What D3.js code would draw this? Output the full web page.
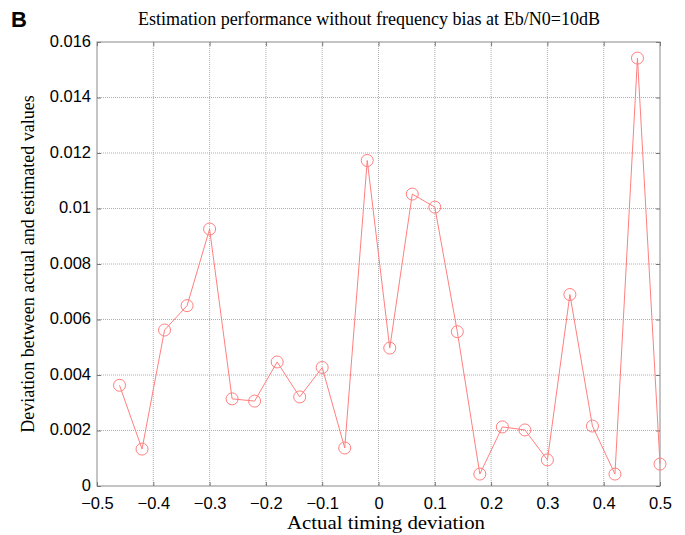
<!DOCTYPE html>
<html>
<head>
<meta charset="utf-8">
<script src="https://cdn.jsdelivr.net/npm/d3@7"></script>
<style>
  body { margin: 0; background: #fff; }
  svg { display: block; }
</style>
</head>
<body>
<svg id="chart" width="685" height="535"></svg>
<script>
// timing deviation on x, estimation error on y
const timingDev = [-0.46, -0.42, -0.38, -0.34, -0.30, -0.26, -0.22, -0.18, -0.14, -0.10, -0.06, -0.02,
  0.02, 0.06, 0.10, 0.14, 0.18, 0.22, 0.26, 0.30, 0.34, 0.38, 0.42, 0.46, 0.50];
const estError = [0.00363, 0.00133, 0.00562, 0.00650, 0.00926, 0.00314, 0.00306, 0.00447, 0.00321, 0.00427, 0.00137, 0.01173,
  0.00497, 0.01052, 0.01005, 0.00556, 0.00043, 0.00213, 0.00202, 0.00094, 0.00690, 0.00216, 0.00043, 0.01542, 0.00079];
const xTicks = [-0.5, -0.4, -0.3, -0.2, -0.1, 0, 0.1, 0.2, 0.3, 0.4, 0.5];
const yTicks = [0, 0.002, 0.004, 0.006, 0.008, 0.01, 0.012, 0.014, 0.016];

const svg = d3.select('#chart');
const margin = { top: 42, right: 25, bottom: 49, left: 97 };
const width = 685 - margin.left - margin.right;
const height = 535 - margin.top - margin.bottom;

const x = d3.scaleLinear().domain([-0.5, 0.5]).range([0, width]);
const y = d3.scaleLinear().domain([0, 0.016]).range([height, 0]);

const g = svg.append('g').attr('transform', `translate(${margin.left},${margin.top})`);

// dotted grid
g.append('g')
  .selectAll('line')
  .data(xTicks.slice(1, -1))
  .join('line')
  .attr('x1', d => x(d)).attr('x2', d => x(d))
  .attr('y1', 0).attr('y2', height)
  .attr('stroke', '#b0b0b0').attr('stroke-dasharray', '1,1');
g.append('g')
  .selectAll('line')
  .data(yTicks.slice(1, -1))
  .join('line')
  .attr('x1', 0).attr('x2', width)
  .attr('y1', d => y(d)).attr('y2', d => y(d))
  .attr('stroke', '#b0b0b0').attr('stroke-dasharray', '1,1');

// box
g.append('rect')
  .attr('width', width).attr('height', height)
  .attr('fill', 'none').attr('stroke', '#8a8a8a').attr('stroke-width', 1);

const xAxis = g.append('g').attr('transform', `translate(0,${height})`)
  .call(d3.axisBottom(x).tickValues(xTicks).tickSize(-4).tickFormat(d3.format('')));
const yAxis = g.append('g')
  .call(d3.axisLeft(y).tickValues(yTicks).tickSize(-4).tickPadding(6).tickFormat(d3.format('')));
g.append('g').attr('transform', `translate(${width},0)`)
  .call(d3.axisRight(y).tickValues(yTicks).tickSize(-4).tickFormat(''));
g.append('g')
  .call(d3.axisTop(x).tickValues(xTicks).tickSize(-4).tickFormat(''));

g.selectAll('.domain').remove();
g.selectAll('.tick line').attr('stroke', '#777');
g.selectAll('.tick text')
  .attr('fill', '#000')
  .style('font-family', '"Liberation Sans", Arial, sans-serif')
  .style('font-size', '16.5px');
yAxis.selectAll('.tick text').attr('dy', '0.25em');
xAxis.selectAll('.tick text').attr('y', 22.5).attr('dy', 0);

// series line + circle markers
const line = d3.line().x((d, i) => x(timingDev[i])).y(d => y(d));
g.append('path')
  .datum(estError)
  .attr('d', line)
  .attr('fill', 'none')
  .attr('stroke', '#ff7f7f')
  .attr('stroke-width', 1);

g.selectAll('circle.pt')
  .data(estError)
  .join('circle')
  .attr('class', 'pt')
  .attr('cx', (d, i) => x(timingDev[i]))
  .attr('cy', d => y(d))
  .attr('r', 6)
  .attr('fill', 'none')
  .attr('stroke', '#ff7f7f')
  .attr('stroke-width', 1);

// titles
svg.append('text')
  .attr('x', 369)
  .attr('y', 25)
  .attr('text-anchor', 'middle')
  .attr('textLength', 462)
  .attr('lengthAdjust', 'spacingAndGlyphs')
  .style('font-family', '"Liberation Serif", "Times New Roman", serif')
  .style('font-size', '18px')
  .text('Estimation performance without frequency bias at Eb/N0=10dB');

svg.append('text')
  .attr('x', 386)
  .attr('y', 529)
  .attr('text-anchor', 'middle')
  .attr('textLength', 198)
  .attr('lengthAdjust', 'spacingAndGlyphs')
  .style('font-family', '"Liberation Serif", "Times New Roman", serif')
  .style('font-size', '18px')
  .text('Actual timing deviation');

svg.append('text')
  .attr('transform', `translate(34,${margin.top + height / 2}) rotate(-90)`)
  .attr('text-anchor', 'middle')
  .style('font-family', '"Liberation Serif", "Times New Roman", serif')
  .style('font-size', '18px')
  .text('Deviation between actual and estimated values');

svg.append('text')
  .attr('x', 11)
  .attr('y', 27)
  .style('font-family', '"Liberation Sans", Arial, sans-serif')
  .style('font-weight', 'bold')
  .style('font-size', '22px')
  .text('B');
</script>
</body>
</html>
